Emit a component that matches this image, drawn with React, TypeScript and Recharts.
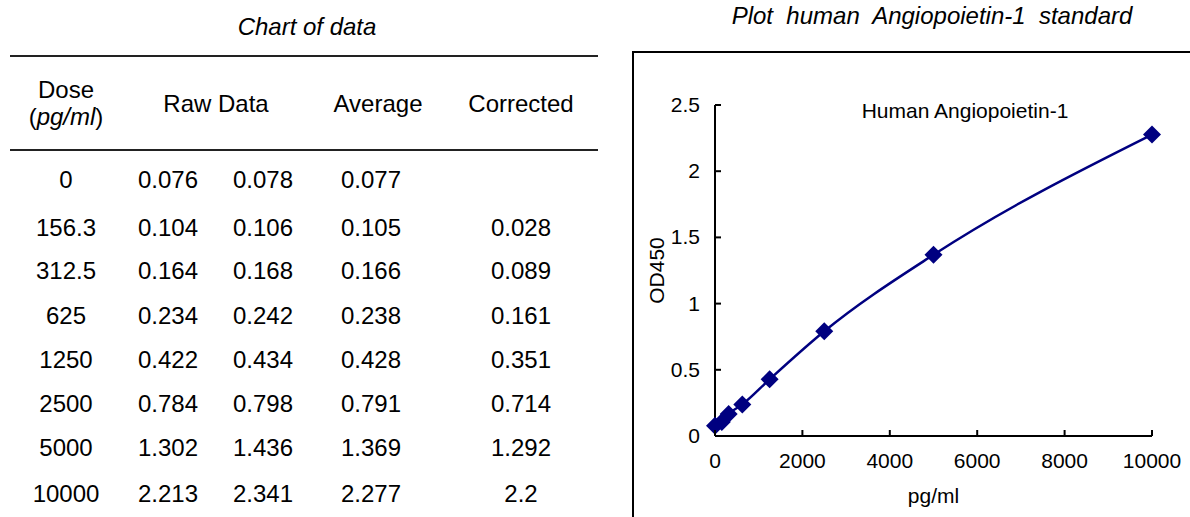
import { ComposedChart, Line, XAxis, YAxis, Legend } from 'recharts';

// standard curve data
const doses = [0, 156.3, 312.5, 625, 1250, 2500, 5000, 10000];
const rawA = [0.076, 0.104, 0.164, 0.234, 0.422, 0.784, 1.302, 2.213];
const rawB = [0.078, 0.106, 0.168, 0.242, 0.434, 0.798, 1.436, 2.341];
const averages = [0.077, 0.105, 0.166, 0.238, 0.428, 0.791, 1.369, 2.277];
const corrected = [null, 0.028, 0.089, 0.161, 0.351, 0.714, 1.292, 2.2];

const xTicks = [0, 2000, 4000, 6000, 8000, 10000];
const yTicks = [0, 0.5, 1, 1.5, 2, 2.5];

const seriesName = 'Human Angiopoietin-1';

// table layout (page pixels)
const colX = { dose: 66, rawA: 168, rawB: 263, avg: 371, corr: 521 };
const rowY = [180, 228, 271, 316, 360, 404, 448, 494];

const FONT = '"Liberation Sans", Arial, sans-serif';
const NAVY = '#000080';
const AXIS_FONT = 21;

const chartData = doses.map((d, i) => ({ dose: d, average: averages[i] }));

function Cell({ x, y, children, italic }: { x: number; y: number; children: any; italic?: boolean }) {
  return (
    <div
      style={{
        position: 'absolute',
        left: x,
        top: y,
        transform: 'translate(-50%, -50%)',
        fontSize: 24,
        lineHeight: 1,
        whiteSpace: 'pre',
        fontStyle: italic ? 'italic' : 'normal',
        color: '#000',
      }}
    >
      {children}
    </div>
  );
}

const Diamond = (props: any) => {
  const { cx, cy, index } = props;
  if (cx == null || cy == null) return <g key={index} />;
  const r = 9;
  return (
    <polygon
      key={index}
      points={`${cx},${cy - r} ${cx + r},${cy} ${cx},${cy + r} ${cx - r},${cy}`}
      fill={NAVY}
    />
  );
};

// ticks point inwards, so draw line + label ourselves
const YTick = (props: any) => {
  const { x, y, payload } = props;
  return (
    <g>
      <line x1={x + 15} x2={x + 21} y1={y} y2={y} stroke="#000" strokeWidth={2} />
      <text x={x} y={y} dy={7} textAnchor="end" fontSize={AXIS_FONT} fontFamily={FONT} fill="#000">
        {String(payload.value)}
      </text>
    </g>
  );
};

const XTick = (props: any) => {
  const { x, y, payload } = props;
  return (
    <g>
      <line x1={x} x2={x} y1={y - 25} y2={y - 31} stroke="#000" strokeWidth={2} />
      <text x={x} y={y} dy={7} textAnchor="middle" fontSize={AXIS_FONT} fontFamily={FONT} fill="#000">
        {String(payload.value)}
      </text>
    </g>
  );
};

const YLabel = (props: any) => {
  const vb = props.viewBox || { x: 0, y: 0, width: 0, height: 0 };
  const cx = vb.x + 23;
  const cy = vb.y + vb.height / 2;
  return (
    <text
      x={cx}
      y={cy}
      dy={7}
      textAnchor="middle"
      transform={`rotate(-90 ${cx} ${cy})`}
      fontSize={AXIS_FONT}
      fontFamily={FONT}
      fill="#000"
    >
      OD450
    </text>
  );
};

const XLabel = (props: any) => {
  const vb = props.viewBox || { x: 0, y: 0, width: 0, height: 0 };
  return (
    <text
      x={vb.x + vb.width / 2}
      y={vb.y + 60}
      dy={7}
      textAnchor="middle"
      fontSize={AXIS_FONT}
      fontFamily={FONT}
      fill="#000"
    >
      pg/ml
    </text>
  );
};

export default function App() {
  return (
    <div
      style={{
        position: 'absolute',
        left: 0,
        top: 0,
        width: 1190,
        height: 517,
        overflow: 'hidden',
        background: '#fff',
        fontFamily: FONT,
      }}
    >
      {/* table side */}
      <Cell x={307} y={27} italic>Chart of data</Cell>
      <div style={{ position: 'absolute', left: 10, top: 55, width: 588, height: 2, background: '#222' }} />
      <div style={{ position: 'absolute', left: 10, top: 149, width: 588, height: 2, background: '#222' }} />

      <Cell x={colX.dose} y={90}>Dose</Cell>
      <Cell x={colX.dose} y={117}>
        (<i>pg/ml</i>)
      </Cell>
      <Cell x={216} y={104}>Raw Data</Cell>
      <Cell x={378} y={104}>Average</Cell>
      <Cell x={colX.corr} y={104}>Corrected</Cell>

      {doses.map((d, i) => (
        <div key={d}>
          <Cell x={colX.dose} y={rowY[i]}>{String(d)}</Cell>
          <Cell x={colX.rawA} y={rowY[i]}>{rawA[i].toFixed(3)}</Cell>
          <Cell x={colX.rawB} y={rowY[i]}>{rawB[i].toFixed(3)}</Cell>
          <Cell x={colX.avg} y={rowY[i]}>{averages[i].toFixed(3)}</Cell>
          {corrected[i] != null && <Cell x={colX.corr} y={rowY[i]}>{String(corrected[i])}</Cell>}
        </div>
      ))}

      {/* plot side */}
      <Cell x={932} y={16} italic>{'Plot  human  Angiopoietin-1  standard'}</Cell>
      <div
        style={{
          position: 'absolute',
          left: 632,
          top: 51,
          width: 600,
          height: 500,
          borderLeft: '2px solid #000',
          borderTop: '2px solid #000',
        }}
      >
        <ComposedChart
          width={556}
          height={464}
          data={chartData}
          margin={{ top: 52, right: 38, left: 0, bottom: 0 }}
        >
          <XAxis
            dataKey="dose"
            type="number"
            domain={[0, 10000]}
            ticks={xTicks}
            interval={0}
            height={81}
            tickSize={0}
            tickMargin={25}
            tick={<XTick />}
            axisLine={{ stroke: '#000', strokeWidth: 2 }}
            label={<XLabel />}
          />
          <YAxis
            type="number"
            domain={[0, 2.5]}
            ticks={yTicks}
            interval={0}
            width={81}
            tickSize={0}
            tickMargin={15}
            tick={<YTick />}
            axisLine={{ stroke: '#000', strokeWidth: 2 }}
            label={<YLabel />}
          />
          <Legend
            layout="vertical"
            align="center"
            verticalAlign="middle"
            wrapperStyle={{ top: 46, left: 181, width: 300, height: 24 }}
            content={() => (
              <div style={{ textAlign: 'center', fontSize: 21, lineHeight: '24px', fontFamily: FONT, color: '#000' }}>
                {seriesName}
              </div>
            )}
          />
          <Line
            name={seriesName}
            dataKey="average"
            type="monotone"
            stroke={NAVY}
            strokeWidth={2.5}
            dot={Diamond}
            activeDot={false}
            isAnimationActive={false}
          />
        </ComposedChart>
      </div>
    </div>
  );
}
